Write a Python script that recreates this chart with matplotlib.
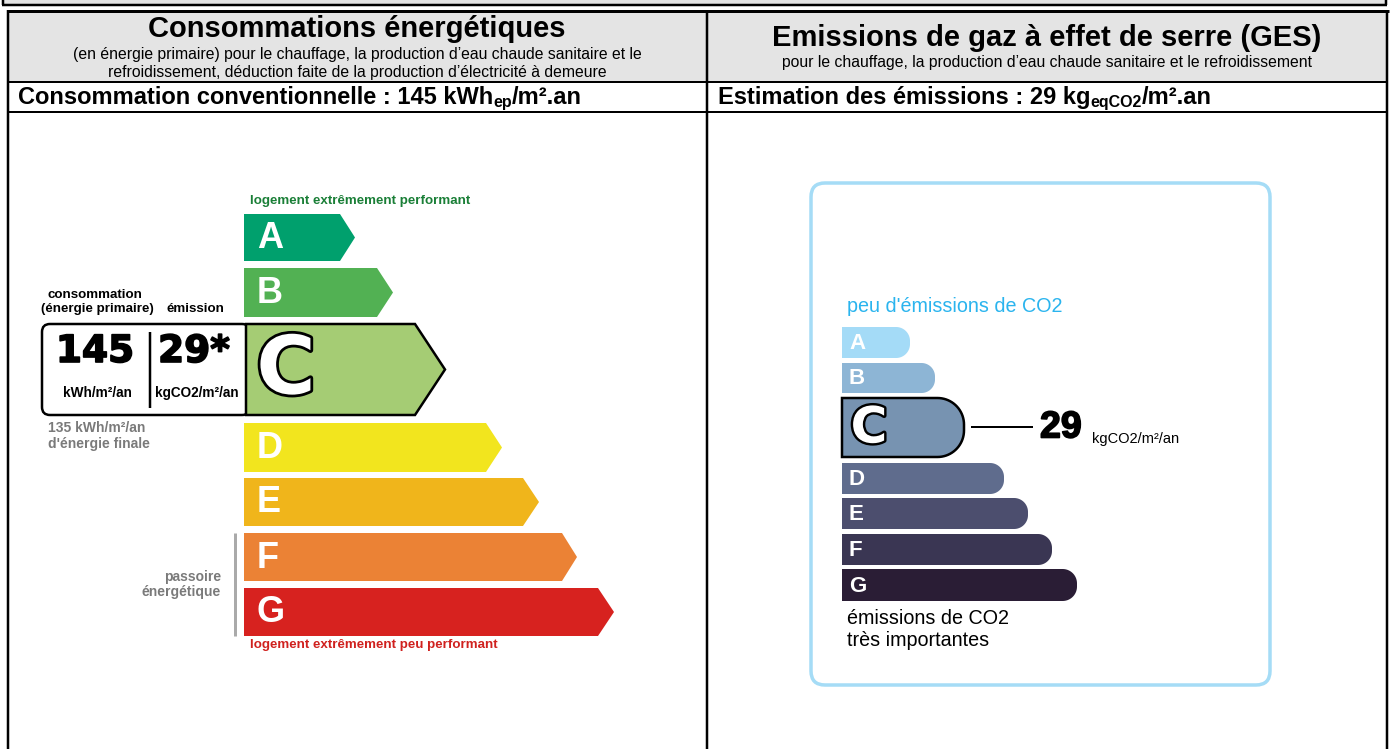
import numpy as np
import matplotlib
matplotlib.use("Agg")
import matplotlib.pyplot as plt
import matplotlib.patheffects as pe
from matplotlib.patches import Polygon, Rectangle, FancyBboxPatch

classes = ["A", "B", "C", "D", "E", "F", "G"]
current_class = "C"
conso_primary = 145        # kWh_ep/m².an
conso_final = 135          # kWh/m²/an
ges_value = 29             # kg eqCO2/m².an

dpe_colors = ["#00a06d", "#52b153", "#a5cc74", "#f2e51e", "#f0b51b", "#eb8235", "#d7221f"]
ges_colors = ["#a4dbf7", "#8db5d5", "#7793b1", "#5f6c8d", "#4c4e6e", "#3a3653", "#2a1d35"]

# bar geometry (pixels): top, bottom, end of straight part, tip
dpe_top = [214, 268, 324, 423, 478, 533, 588]
dpe_bot = [261, 317, 415, 472, 526, 581, 636]
dpe_end = [340, 377, 415, 486, 523, 562, 598]
dpe_tip = [355, 393, 445, 502, 539, 577, 614]
ges_top = [327, 363, 398, 463, 498, 534, 569]
ges_bot = [358, 393, 457, 494, 529, 565, 601]
ges_end = [910, 935, 964, 1004, 1028, 1052, 1077]

W, H = 1391, 749
FONT = "Liberation Sans"
plt.rcParams["font.family"] = [FONT, "DejaVu Sans"]

fig = plt.figure(figsize=(W / 100, H / 100), dpi=100)
ax = fig.add_axes([0, 0, 1, 1])
ax.set_xlim(0, W)
ax.set_ylim(H, 0)
ax.axis("off")
PX = 0.72  # points per pixel
GREY = "#7a7a7a"
HEAVY = [pe.withStroke(linewidth=1.2, foreground="black")]


def hline(x0, x1, y, lw=2, color="black"):
    ax.plot([x0, x1], [y, y], color=color, lw=lw * PX, solid_capstyle="butt")


def vline(x, y0, y1, lw=2, color="black"):
    ax.plot([x, x], [y0, y1], color=color, lw=lw * PX, solid_capstyle="butt")


# ---- table frame ----
ax.add_patch(Rectangle((3, -2), 1383, 7, facecolor="#e4e4e4", edgecolor="none"))
hline(2, 1387, 5, 2.5)
vline(3, 0, 5, 2.5)
vline(1386, 0, 5, 2.5)

ax.add_patch(Rectangle((8, 11), 1379, 71, facecolor="#e4e4e4", edgecolor="none"))
hline(7, 1389, 11, 3)
hline(8, 1388, 82, 2)
hline(8, 1388, 112, 2)
vline(8, 10, H, 2.5)
vline(707, 11, H, 2.5)
vline(1387, 10, H, 2.5)

ax.text(357, 29, "Consommations énergétiques", ha="center", va="center",
        fontsize=21, fontweight="bold")
ax.text(357, 55, "(en énergie primaire) pour le chauffage, la production d’eau chaude sanitaire et le",
        ha="center", va="center", fontsize=11.3)
ax.text(357, 72, "refroidissement, déduction faite de la production d’électricité à demeure",
        ha="center", va="center", fontsize=11.3)
ax.text(1047, 38, "Emissions de gaz à effet de serre (GES)", ha="center", va="center",
        fontsize=21, fontweight="bold")
ax.text(1047, 63, "pour le chauffage, la production d’eau chaude sanitaire et le refroidissement",
        ha="center", va="center", fontsize=11.3)

renderer = fig.canvas.get_renderer()


def text_runs(x, y, parts):
    for s, size, dy in parts:
        t = ax.text(x, y + dy, s, ha="left", va="baseline", fontsize=size, fontweight="bold")
        x += t.get_window_extent(renderer).width


text_runs(18, 104, [(f"Consommation conventionnelle : {conso_primary} kWh", 17, 0),
                    ("ep", 11.5, 3), ("/m².an", 17, 0)])
text_runs(718, 104, [(f"Estimation des émissions : {ges_value} kg", 17, 0),
                     ("eqCO2", 11.5, 3), ("/m².an", 17, 0)])

# ---- DPE energy label (left) ----
ax.text(250, 201, "logement extrêmement performant", ha="left", va="center",
        fontsize=9.6, fontweight="bold", color="#1a7f37")
ax.text(250, 645, "logement extrêmement peu performant", ha="left", va="center",
        fontsize=9.6, fontweight="bold", color="#d0211e")

# box with the values, drawn under the C arrow
ax.add_patch(FancyBboxPatch((42, 324), 208, 91, boxstyle="round,pad=0,rounding_size=8",
                            facecolor="white", edgecolor="black", lw=2.5 * PX))
vline(150, 332, 408, 2.5)

for i, c in enumerate(classes):
    y0, y1 = dpe_top[i], dpe_bot[i]
    pts = [(244, y0), (dpe_end[i], y0), (dpe_tip[i], (y0 + y1) / 2), (dpe_end[i], y1), (244, y1)]
    if c == current_class:
        pts = [(246, y0)] + pts[1:4] + [(246, y1)]
        ax.add_patch(Polygon(pts, closed=True, facecolor=dpe_colors[i], edgecolor="black",
                             lw=2.5 * PX, joinstyle="miter"))
        ax.text(286, (y0 + y1) / 2 + 2, c, ha="center", va="center", fontsize=58,
                fontweight="bold", color="white", family="DejaVu Sans",
                path_effects=[pe.withStroke(linewidth=4, foreground="black")])
    else:
        ax.add_patch(Polygon(pts, closed=True, facecolor=dpe_colors[i], edgecolor="none"))
        ax.text(257, (y0 + y1) / 2 + 1, c, ha="left", va="center", fontsize=26,
                fontweight="bold", color="white")

ax.text(95, 295, "consommation", ha="center", va="center", fontsize=9.6, fontweight="bold")
ax.text(97, 309, "(énergie primaire)", ha="center", va="center", fontsize=9.6, fontweight="bold")
ax.text(195, 309, "émission", ha="center", va="center", fontsize=9.6, fontweight="bold")
ax.text(95, 352, str(conso_primary), ha="center", va="center", fontsize=27,
        fontweight="bold", family="DejaVu Sans", path_effects=HEAVY)
ax.text(194, 352, f"{ges_value}*", ha="center", va="center", fontsize=27,
        fontweight="bold", family="DejaVu Sans", path_effects=HEAVY)
ax.text(97, 393, "kWh/m²/an", ha="center", va="center", fontsize=9.8, fontweight="bold")
ax.text(197, 393, "kgCO2/m²/an", ha="center", va="center", fontsize=9.8, fontweight="bold")
ax.text(48, 428, f"{conso_final} kWh/m²/an", ha="left", va="center", fontsize=10,
        fontweight="bold", color=GREY)
ax.text(48, 444, "d'énergie finale", ha="left", va="center", fontsize=10,
        fontweight="bold", color=GREY)
ax.text(221, 577, "passoire", ha="right", va="center", fontsize=10, fontweight="bold", color=GREY)
ax.text(221, 592, "énergétique", ha="right", va="center", fontsize=10, fontweight="bold", color=GREY)
vline(235, 533, 636, 3, "#aaaaaa")

# ---- GES label (right) ----
ax.add_patch(FancyBboxPatch((811, 183), 459, 502, boxstyle="round,pad=0,rounding_size=14",
                            facecolor="none", edgecolor="#a5dcf6", lw=3.5 * PX))
ax.text(847, 307, "peu d'émissions de CO2", ha="left", va="center", fontsize=14.2, color="#2ab4ee")
ax.text(847, 619, "émissions de CO2", ha="left", va="center", fontsize=14.2)
ax.text(847, 641, "très importantes", ha="left", va="center", fontsize=14.2)


def rounded_bar(x0, y0, x1, y1):
    r = (y1 - y0) / 2 * 0.9
    t1 = np.linspace(-np.pi / 2, 0, 20)
    t2 = np.linspace(0, np.pi / 2, 20)
    pts = [(x0, y0)]
    pts += list(zip(x1 - r + r * np.cos(t1), y0 + r + r * np.sin(t1)))
    pts += list(zip(x1 - r + r * np.cos(t2), y1 - r + r * np.sin(t2)))
    pts += [(x0, y1)]
    return pts


for i, c in enumerate(classes):
    y0, y1 = ges_top[i], ges_bot[i]
    ym = (y0 + y1) / 2
    if c == current_class:
        ax.add_patch(Polygon(rounded_bar(842, y0, ges_end[i], y1), closed=True,
                             facecolor=ges_colors[i], edgecolor="black", lw=2.5 * PX))
        ax.text(869, ym + 1, c, ha="center", va="center", fontsize=36, fontweight="bold",
                color="white", family="DejaVu Sans",
                path_effects=[pe.withStroke(linewidth=3.5, foreground="black")])
        hline(971, 1033, ym - 0.5, 2)
        ax.text(1040, ym, str(ges_value), ha="left", va="center", fontsize=27, fontweight="bold",
                path_effects=HEAVY)
        ax.text(1092, ym + 11, "kgCO2/m²/an", ha="left", va="center", fontsize=10.5)
    else:
        ax.add_patch(Polygon(rounded_bar(842, y0, ges_end[i], y1), closed=True,
                             facecolor=ges_colors[i], edgecolor="none"))
        ax.text(849, ym + 1, c, ha="left", va="center", fontsize=16, fontweight="bold", color="white")

fig.savefig("out.png", dpi=100)
